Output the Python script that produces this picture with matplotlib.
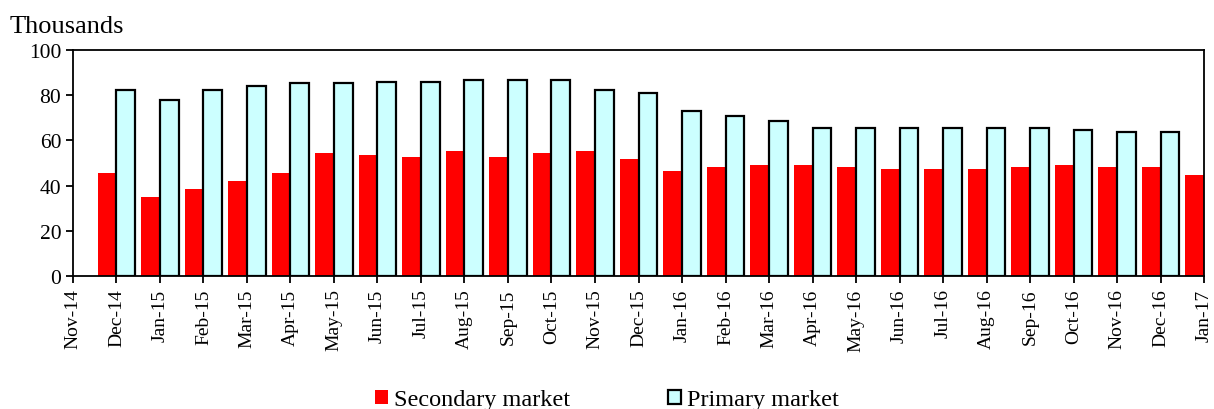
import matplotlib
matplotlib.use('Agg')
import matplotlib.pyplot as plt
import numpy as np

plt.rcParams['font.family'] = ['Liberation Serif', 'DejaVu Serif']

months = ['Nov-14', 'Dec-14', 'Jan-15', 'Feb-15', 'Mar-15', 'Apr-15', 'May-15', 'Jun-15',
          'Jul-15', 'Aug-15', 'Sep-15', 'Oct-15', 'Nov-15', 'Dec-15', 'Jan-16', 'Feb-16',
          'Mar-16', 'Apr-16', 'May-16', 'Jun-16', 'Jul-16', 'Aug-16', 'Sep-16', 'Oct-16',
          'Nov-16', 'Dec-16', 'Jan-17']

# Dec-14 .. Jan-17
secondary = [45.6, 35.0, 38.6, 42.1, 45.6, 54.5, 53.6, 52.7, 55.2, 52.7, 54.5, 55.2, 51.8,
             46.5, 48.3, 49.2, 49.2, 48.3, 47.4, 47.4, 47.4, 48.3, 49.2, 48.3, 48.3, 44.8]
# Dec-14 .. Dec-16
primary = [82.4, 78.0, 82.4, 84.2, 85.2, 85.2, 86.0, 86.0, 86.9, 86.9, 86.9, 82.4, 80.8,
           72.8, 70.9, 68.4, 65.6, 65.6, 65.6, 65.6, 65.6, 65.6, 64.7, 63.8, 63.8]

fig = plt.figure(figsize=(12.14, 4.10), dpi=100)
ax = fig.add_axes([0.0601, 0.3244, 0.9317, 0.5512])

w = 0.43
x_sec = np.arange(1, len(secondary) + 1)
x_pri = np.arange(1, len(primary) + 1)
ax.bar(x_sec, secondary, width=-w, align='edge', color='#FF0000', label='Secondary market')
ax.bar(x_pri, primary, width=w, align='edge', color='#CCFFFF', edgecolor='black',
       linewidth=1.6, label='Primary market')

ax.set_xlim(0, len(months) - 1)
ax.set_ylim(0, 100)
ax.set_yticks(np.arange(0, 101, 20))
ax.set_xticks(np.arange(len(months)))
ax.set_xticklabels(months, rotation=90, fontsize=14)
ax.tick_params(axis='y', labelsize=15.5, direction='out', length=5, width=1.3)
ax.tick_params(axis='x', direction='out', length=5, width=1.3, pad=4)
for s in ax.spines.values():
    s.set_linewidth(1.3)

fig.text(0.008, 1 - 33 / 410, 'Thousands', fontsize=19, va='baseline', ha='left')

fig.legend(loc='center', bbox_to_anchor=(0.5, 1 - 401 / 410), ncol=2, frameon=False,
           fontsize=17.5, handlelength=0.55, handleheight=0.55, handletextpad=0.25,
           columnspacing=4.0, borderpad=0, borderaxespad=0)

fig.savefig('out.png', dpi=100)
